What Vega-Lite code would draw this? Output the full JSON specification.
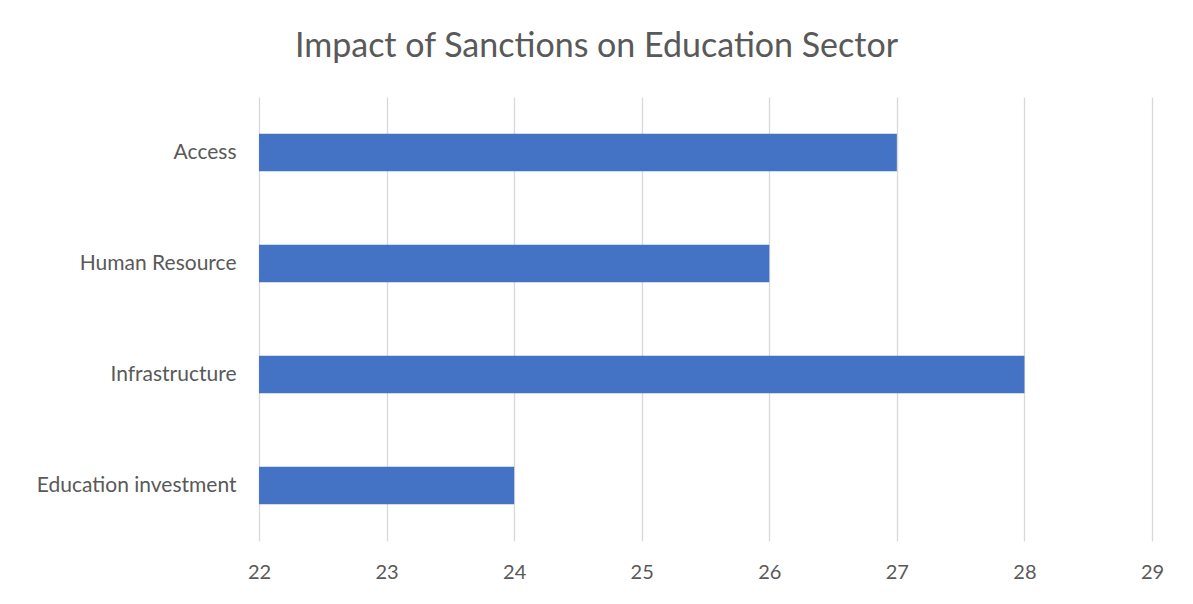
{
  "$schema": "https://vega.github.io/schema/vega-lite/v6.json",
  "autosize": "none",
  "width": 893,
  "height": 444,
  "padding": {"left": 259, "top": 97, "right": 41, "bottom": 63},
  "background": "white",
  "title": {
    "text": "Impact of Sanctions on Education Sector",
    "anchor": "middle",
    "dx": -109,
    "offset": 33,
    "font": "Lato",
    "fontSize": 34,
    "fontWeight": "normal",
    "color": "#595959"
  },
  "data": {
    "values": [
      {"category": "Access", "value": 27},
      {"category": "Human Resource", "value": 26},
      {"category": "Infrastructure", "value": 28},
      {"category": "Education investment\u00a0", "value": 24}
    ]
  },
  "mark": {"type": "bar", "color": "#4472C4"},
  "encoding": {
    "y": {
      "field": "category",
      "type": "nominal",
      "sort": null,
      "title": null,
      "scale": {"paddingInner": 0.66, "paddingOuter": 0.33},
      "axis": {
        "domain": false,
        "ticks": false,
        "grid": false,
        "labelPadding": 23,
        "labelFont": "Lato",
        "labelFontSize": 21,
        "labelColor": "#595959",
        "labelLimit": 400
      }
    },
    "x": {
      "field": "value",
      "type": "quantitative",
      "title": null,
      "scale": {"domain": [22, 29], "zero": false, "nice": false},
      "axis": {
        "domain": false,
        "ticks": false,
        "grid": true,
        "gridColor": "#d9d9d9",
        "gridWidth": 1.3,
        "values": [22, 23, 24, 25, 26, 27, 28, 29],
        "labelFlush": false,
        "labelPadding": 21,
        "labelFont": "Lato",
        "labelFontSize": 20,
        "labelColor": "#595959"
      }
    },
    "x2": {"datum": 22}
  },
  "config": {"view": {"stroke": null}}
}
